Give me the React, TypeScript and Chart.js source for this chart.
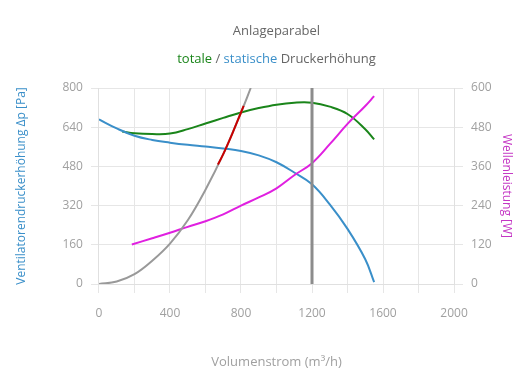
import React, { useEffect, useRef } from "react";
import { Chart, registerables } from "chart.js";

Chart.register(...registerables);

const totalFlow = [130, 200, 300, 400, 500, 600, 700, 800, 900, 1000, 1100, 1200, 1300, 1400, 1500, 1550];
const totalPressure = [622, 615, 612, 614, 632, 655, 678, 700, 718, 732, 740, 740, 724, 694, 632, 590];

const staticFlow = [0, 100, 200, 300, 400, 500, 600, 700, 800, 900, 1000, 1100, 1200, 1300, 1400, 1500, 1550];
const staticPressure = [672, 635, 605, 588, 577, 568, 561, 553, 543, 525, 497, 455, 407, 325, 225, 101, 8];

const powerFlow = [185, 300, 400, 500, 600, 700, 800, 900, 1000, 1100, 1200, 1300, 1400, 1500, 1550];
const shaftPower = [121, 140, 157, 175, 192, 213, 240, 265, 293, 333, 370, 428, 490, 545, 575];

const systemFlow = [0, 100, 200, 300, 400, 500, 600, 700, 800, 855];
const systemPressure = [0, 10, 40, 95, 165, 260, 385, 530, 700, 800];

const rangeFlow = [670, 700, 750, 800, 815];
const rangePressure = [488, 530, 612, 700, 727];

const markerFlow = [1200, 1200];
const markerPressure = [0, 800];

const xTicksMin = 0;
const xTicksMax = 2000;

const pts = (xs: number[], ys: number[]) => xs.map((x, i) => ({ x, y: ys[i] }));

const FONT = "'Open Sans', 'Noto Sans', sans-serif";

const titlePlugin = {
  id: "customTitles",
  afterDraw(chart: any) {
    const { ctx, chartArea } = chart;
    const cx = (chartArea.left + chartArea.right) / 2;
    ctx.save();
    ctx.textBaseline = "middle";
    ctx.font = `13px ${FONT}`;
    ctx.fillStyle = "#666";
    ctx.textAlign = "center";
    ctx.fillText("Anlageparabel", cx, 31);
    const segs = [
      { t: "totale", c: "#1a851a" },
      { t: " / ", c: "#666" },
      { t: "statische", c: "#3a8fc9" },
      { t: " Druckerhöhung", c: "#666" },
    ];
    const total = segs.reduce((s, g) => s + ctx.measureText(g.t).width, 0);
    let x = cx - total / 2;
    ctx.textAlign = "left";
    for (const g of segs) {
      ctx.fillStyle = g.c;
      ctx.fillText(g.t, x, 59);
      x += ctx.measureText(g.t).width;
    }
    ctx.restore();
  },
};

export default function App() {
  const ref = useRef<HTMLCanvasElement>(null);
  useEffect(() => {
    document.body.style.margin = "0";
    const chart = new Chart(ref.current!, {
      type: "line",
      data: {
        datasets: [
          { label: "marker", data: pts(markerFlow, markerPressure), borderColor: "#8c8c8c", borderWidth: 3, yAxisID: "y", tension: 0 },
          { label: "range", data: pts(rangeFlow, rangePressure), borderColor: "#c80000", borderWidth: 2, yAxisID: "y", order: -1 },
          { label: "Anlagenkennlinie", data: pts(systemFlow, systemPressure), borderColor: "#999999", borderWidth: 2, yAxisID: "y" },
          { label: "Wellenleistung", data: pts(powerFlow, shaftPower), borderColor: "#e020e0", borderWidth: 2, yAxisID: "y1" },
          { label: "statisch", data: pts(staticFlow, staticPressure), borderColor: "#3a8fc9", borderWidth: 2, yAxisID: "y" },
          { label: "total", data: pts(totalFlow, totalPressure), borderColor: "#1a851a", borderWidth: 2, yAxisID: "y" },
        ],
      },
      options: {
        animation: false,
        responsive: false,
        maintainAspectRatio: false,
        parsing: false as any,
        elements: {
          point: { radius: 0, hoverRadius: 0 },
          line: { tension: 0.4, fill: false },
        },
        layout: { padding: { top: 88, left: 14, right: 0, bottom: 20 } },
        plugins: { legend: { display: false }, tooltip: { enabled: false }, title: { display: false } },
        scales: {
          x: {
            type: "linear",
            min: xTicksMin,
            max: xTicksMax,
            ticks: {
              stepSize: 200,
              color: "#a0a0a0",
              font: { family: FONT, size: 12 },
              padding: 13,
              maxRotation: 0,
              autoSkip: false,
              callback: (v: any) => (Number(v) % 400 === 0 ? String(v) : ""),
            },
            grid: { color: "#e6e6e6", tickLength: 9 },
            border: { color: "#e0e0e0" },
            title: { display: true, text: "Volumenstrom (m³/h)", color: "#a0a0a0", font: { family: FONT, size: 13 }, padding: { top: 21, bottom: 0 } },
          },
          y: {
            type: "linear",
            position: "left",
            min: 0,
            max: 800,
            ticks: { stepSize: 160, color: "#a0a0a0", font: { family: FONT, size: 12 }, padding: 8 },
            grid: { color: "#e6e6e6", tickLength: 8 },
            border: { color: "#e0e0e0" },
            title: { display: true, text: "Ventilatorendruckerhöhung Δp [Pa]", color: "#3a8fc9", font: { family: FONT, size: 12 }, padding: { top: 0, bottom: 26 } },
          },
          y1: {
            type: "linear",
            position: "right",
            min: 0,
            max: 600,
            ticks: { stepSize: 120, color: "#a0a0a0", font: { family: FONT, size: 12 }, padding: 8 },
            grid: { drawOnChartArea: false, color: "#e6e6e6", tickLength: 9 },
            border: { color: "#e0e0e0" },
            title: { display: true, text: "Wellenleistung [W]", color: "#c436c4", font: { family: FONT, size: 12 }, padding: { top: 16, bottom: 0 } },
          },
        },
      },
      plugins: [titlePlugin],
    } as any);
    return () => chart.destroy();
  }, []);
  return (
    <div style={{ width: 530, height: 390 }}>
      <canvas ref={ref} width={530} height={390} style={{ width: 530, height: 390 }} />
    </div>
  );
}
